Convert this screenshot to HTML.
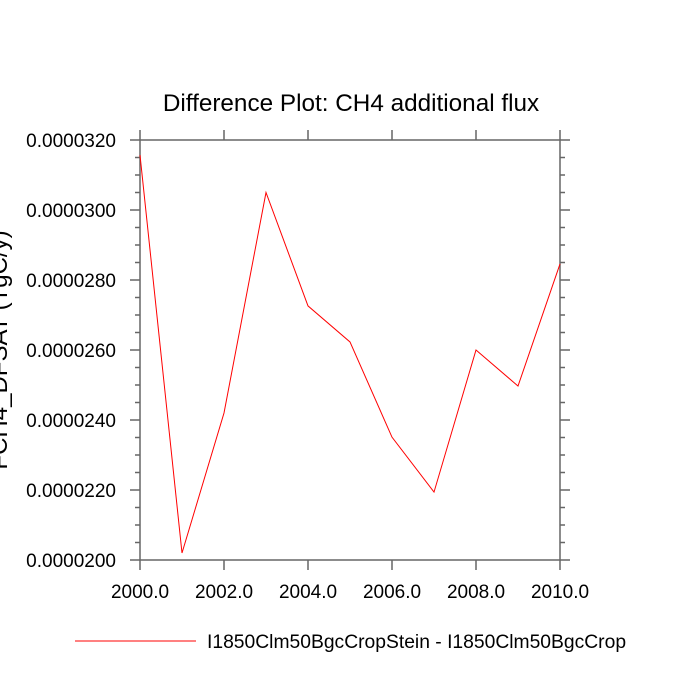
<!DOCTYPE html>
<html><head><meta charset="utf-8"><style>
html,body{margin:0;padding:0;background:#fff;width:700px;height:700px;overflow:hidden}
svg text{font-family:"Liberation Sans",sans-serif;fill:#000}
</style></head><body>
<svg id="chart" width="700" height="700" xmlns="http://www.w3.org/2000/svg">
<text x="351" y="111" font-size="24.3" text-anchor="middle">Difference Plot: CH4 additional flux</text>
<text transform="translate(7,350) rotate(-90)" font-size="24" text-anchor="middle">FCH4_DFSAT (TgC/y)</text>
<g id="axes"></g>
<rect x="140" y="140" width="420" height="420" fill="none" stroke="#666" stroke-width="1.5"/>
<polyline id="series" fill="none" stroke="#ff0000" stroke-width="1"/>
<line x1="75" y1="641" x2="196" y2="641" stroke="#ff0000" stroke-width="1"/>
<text x="207" y="648" font-size="19.3">I1850Clm50BgcCropStein - I1850Clm50BgcCrop</text>
</svg>
<script>
const years=[2000,2001,2002,2003,2004,2005,2006,2007,2008,2009,2010];
const values=[31.57,20.2,24.2,30.5,27.26,26.23,23.51,21.94,26.0,24.97,28.46];
const yTicks=[20,22,24,26,28,30,32];
const yTickLabels=["0.0000200","0.0000220","0.0000240","0.0000260","0.0000280","0.0000300","0.0000320"];
const xTicks=[2000,2002,2004,2006,2008,2010];
const xTickLabels=["2000.0","2002.0","2004.0","2006.0","2008.0","2010.0"];
const L=140,R=560,T=140,B=560;
function xs(v){return L+(v-2000)/10*(R-L);}
function ys(v){return B-(v-20)/12*(B-T);}
const NS="http://www.w3.org/2000/svg";
const ax=document.getElementById('axes');
function ln(x1,y1,x2,y2,name){const l=document.createElementNS(NS,'line');
l.setAttribute('x1',x1);l.setAttribute('y1',y1);l.setAttribute('x2',x2);l.setAttribute('y2',y2);
l.setAttribute('stroke','#666');l.setAttribute('stroke-width','1.5');


ax.appendChild(l);}
function tx(x,y,s,anchor,name){const t=document.createElementNS(NS,'text');
t.setAttribute('x',x);t.setAttribute('y',y);t.setAttribute('font-size','19');t.setAttribute('text-anchor',anchor);t.textContent=s;


ax.appendChild(t);}
yTicks.forEach((v,i)=>{const y=ys(v);ln(130,y,140,y,'y-tick');ln(560,y,570,y,'y-tick-right');
tx(116,y+7,yTickLabels[i],'end','y-tick-label');});
for(let v=20;v<32;v+=0.5){if(v%2===0)continue;const y=ys(v);ln(135,y,140,y,'y-minor-tick');ln(560,y,565,y,'y-minor-tick-right');}
xTicks.forEach((v,i)=>{const x=xs(v);ln(x,560,x,570,'x-tick');ln(x,130,x,140,'x-tick-top');
tx(x,598,xTickLabels[i],'middle','x-tick-label');});
document.getElementById('series').setAttribute('points',years.map((y,i)=>xs(y)+','+ys(values[i])).join(' '));
</script>
</body></html>
